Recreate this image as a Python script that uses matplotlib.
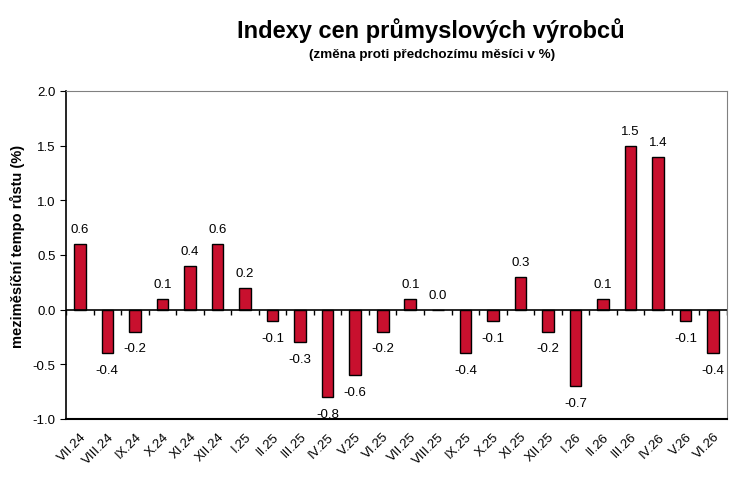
import numpy as np
import matplotlib.pyplot as plt

plt.rcParams['font.family'] = ['Liberation Sans', 'DejaVu Sans']

months = ["VII.24", "VIII.24", "IX.24", "X.24", "XI.24", "XII.24",
          "I.25", "II.25", "III.25", "IV.25", "V.25", "VI.25",
          "VII.25", "VIII.25", "IX.25", "X.25", "XI.25", "XII.25",
          "I.26", "II.26", "III.26", "IV.26", "V.26", "VI.26"]
values = [0.6, -0.4, -0.2, 0.1, 0.4, 0.6,
          0.2, -0.1, -0.3, -0.8, -0.6, -0.2,
          0.1, 0.0, -0.4, -0.1, 0.3, -0.2,
          -0.7, 0.1, 1.5, 1.4, -0.1, -0.4]

fig = plt.figure(figsize=(7.44, 4.81), dpi=100)
ax = fig.add_axes([66/744, 1 - 420/481, (727 - 66)/744, (420 - 92)/481])

x = np.arange(len(months))
ax.bar(x, values, width=0.42, color="#c8102e", edgecolor="black", linewidth=1, zorder=3)

for xi, v in zip(x, values):
    if v >= 0:
        ax.text(xi, v + 0.08, f"{v:.1f}", ha="center", va="bottom", fontsize=9.5)
    else:
        ax.text(xi, v - 0.1, f"{v:.1f}", ha="center", va="top", fontsize=9.5)

ax.set_xlim(-0.5, len(months) - 0.5)
ax.set_ylim(-1.0, 2.0)
ax.set_yticks(np.arange(-1.0, 2.01, 0.5))
ax.set_yticklabels([f"{t:.1f}" for t in np.arange(-1.0, 2.01, 0.5)], fontsize=9.5)
ax.set_xticks(x)
ax.set_xticklabels(months, rotation=45, ha="right", rotation_mode="anchor", fontsize=9.5)
ax.tick_params(axis="x", length=0, pad=8)
ax.tick_params(axis="y", length=4, direction="out")

ax.spines["left"].set_color("black")
ax.spines["bottom"].set_color("black")
ax.spines["left"].set_linewidth(1.2)
ax.spines["bottom"].set_linewidth(1.5)
ax.spines["top"].set_color("#808080")
ax.spines["right"].set_color("#808080")

# zero line with small category ticks
ax.axhline(0, color="black", linewidth=1.2, zorder=4)
ax.vlines(np.arange(len(months) + 1) - 0.5, -0.045, 0, color="black", linewidth=1, zorder=4)

ax.set_ylabel("meziměsíční tempo růstu (%)", fontsize=10.5, fontweight="bold")
ax.yaxis.set_label_coords(-0.062, 0.53)

fig.text(431/744, 1 - 31/481, "Indexy cen průmyslových výrobců", ha="center", va="center",
         fontsize=17, fontweight="bold")
fig.text(432/744, 1 - 55/481, "(změna proti předchozímu měsíci v %)", ha="center", va="center",
         fontsize=9.7, fontweight="bold")

fig.savefig("out.png", dpi=100)
